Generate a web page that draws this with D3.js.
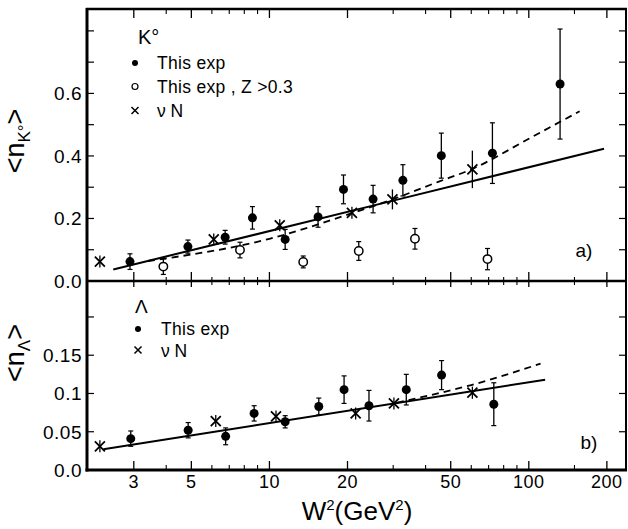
<!DOCTYPE html>
<html><head><meta charset="utf-8">
<script src="https://cdn.jsdelivr.net/npm/d3@7/dist/d3.min.js"></script>
<style>
body{margin:0;background:#fff}
svg{display:block;background:#fff}
text{font-family:"Liberation Sans",Arial,sans-serif;fill:#000}
</style>
</head><body>
<svg id="c" width="628" height="529"></svg>
<script>
// ---------------- data ----------------
const xMajorTicks = [3, 5, 10, 20, 50, 100, 200];
const xMinorTicks = [4, 6, 7, 8, 9, 30, 40, 60, 70, 80, 90, 150];

const kTicks = [0.1, 0.2, 0.3, 0.4, 0.5, 0.6, 0.7, 0.8];
const kTickLabels = [0.0, 0.2, 0.4, 0.6];
const lTicks = [0.05, 0.1, 0.15, 0.2];
const lTickLabels = [0.0, 0.05, 0.1, 0.15];

// K0 panel: [W2, <n>, error]
const kThisExp = [
  [2.9, 0.062, 0.025], [4.85, 0.110, 0.021], [6.75, 0.140, 0.022],
  [8.6, 0.202, 0.036], [11.5, 0.133, 0.032], [15.4, 0.205, 0.033],
  [19.3, 0.293, 0.046], [25.1, 0.262, 0.044], [32.7, 0.322, 0.050],
  [46, 0.401, 0.072], [72.4, 0.409, 0.097], [132, 0.630, 0.176]
];
const kThisExpZ = [
  [3.9, 0.046, 0.025], [7.7, 0.099, 0.025], [13.5, 0.061, 0.019],
  [22.1, 0.096, 0.030], [36.4, 0.135, 0.033], [69.3, 0.070, 0.034]
];
const kNuN = [
  [2.22, 0.062, 0.012], [6.1, 0.133, 0.012], [10.96, 0.178, 0.018],
  [20.8, 0.218, 0.018], [29.8, 0.261, 0.032], [60.6, 0.357, 0.060]
];
const kSolidW2 = [2.5, 30, 195];
const kSolidN  = [0.037, 0.257, 0.423];
const kDashW2 = [3.4, 10, 20, 30, 45, 60, 100, 157];
const kDashN  = [0.064, 0.135, 0.212, 0.262, 0.318, 0.357, 0.455, 0.543];

// Lambda panel
const lThisExp = [
  [2.92, 0.041, 0.010], [4.86, 0.052, 0.010], [6.78, 0.044, 0.011],
  [8.73, 0.074, 0.010], [11.5, 0.063, 0.008], [15.5, 0.083, 0.011],
  [19.4, 0.105, 0.018], [24.2, 0.084, 0.020], [33.7, 0.105, 0.020],
  [46.1, 0.124, 0.019], [73.3, 0.086, 0.028]
];
const lNuN = [
  [2.22, 0.031, 0.004], [6.21, 0.064, 0.004], [10.6, 0.070, 0.004],
  [21.5, 0.074, 0.006], [30.2, 0.087, 0.005], [60.6, 0.101, 0.008]
];
const lSolidW2 = [2.29, 115.6];
const lSolidN  = [0.027, 0.118];
const lDashW2 = [31, 42, 60, 111];
const lDashN  = [0.088, 0.098, 0.111, 0.139];

// ---------------- layout ----------------
const svg = d3.select("#c");
const L = 87, R = 626, T = 9, MID = 281, B = 470;

const x = d3.scaleLog().domain([1.98, 237]).range([L, R]);
const yK = d3.scaleLinear().domain([0, 0.87]).range([MID, T]);
const yL = d3.scaleLinear().domain([0, 0.247]).range([B, MID]);

const g = svg.append("g");

function hline(y, x1, x2, w) {
  g.append("line").attr("x1", x1).attr("x2", x2).attr("y1", y).attr("y2", y)
    .attr("stroke", "#000").attr("stroke-width", w);
}
function vline(xp, y1, y2, w) {
  g.append("line").attr("x1", xp).attr("x2", xp).attr("y1", y1).attr("y2", y2)
    .attr("stroke", "#000").attr("stroke-width", w);
}
hline(T, L - 1, R + 1, 2.5);
hline(MID, L, R + 1, 2.5);
hline(B, L - 1.5, R + 1, 3);
vline(L, T - 1, B + 1.5, 3);
vline(R, T - 1, B + 1, 2);

// x ticks
xMajorTicks.forEach(v => {
  const xp = x(v);
  vline(xp, T, T + 9, 1.3);
  vline(xp, MID - 9, MID + 6, 1.3);
  vline(xp, B - 9, B, 1.3);
});
xMinorTicks.forEach(v => {
  const xp = x(v);
  vline(xp, T, T + 5, 1.1);
  vline(xp, MID - 4, MID + 4, 1.1);
  vline(xp, B - 5, B, 1.1);
});
g.selectAll(".xl").data(xMajorTicks).enter().append("text")
  .attr("x", d => x(d)).attr("y", 488).attr("text-anchor", "middle")
  .attr("font-size", 18).attr("letter-spacing", 0.5).text(d => d);

// y ticks
kTicks.forEach(v => { hline(yK(v), L, L + 7, 1.2); hline(yK(v), R - 7, R, 1.2); });
lTicks.forEach(v => { hline(yL(v), L, L + 7, 1.2); hline(yL(v), R - 7, R, 1.2); });
g.selectAll(".ykl").data(kTickLabels).enter().append("text")
  .attr("x", 82).attr("y", d => yK(d) + 7).attr("text-anchor", "end")
  .attr("font-size", 19).attr("letter-spacing", 0.5).text(d => d3.format(".1f")(d));
g.selectAll(".yll").data(lTickLabels).enter().append("text")
  .attr("x", 82).attr("y", d => yL(d) + 7).attr("text-anchor", "end")
  .attr("font-size", 19).attr("letter-spacing", 0.5)
  .text(d => d === 0 ? "0.0" : String(d));

// curves
function curve(xs, ys, yS, dashed, curveType) {
  const pts = xs.map((v, i) => [v, ys[i]]);
  const ln = d3.line().x(d => x(d[0])).y(d => yS(d[1])).curve(curveType);
  g.append("path").attr("d", ln(pts)).attr("fill", "none").attr("stroke", "#000")
    .attr("stroke-width", dashed ? 1.8 : 2)
    .attr("stroke-dasharray", dashed ? "7,5" : null);
}
curve(kSolidW2, kSolidN, yK, false, d3.curveLinear);
curve(kDashW2, kDashN, yK, true, d3.curveMonotoneX);
curve(lSolidW2, lSolidN, yL, false, d3.curveLinear);
curve(lDashW2, lDashN, yL, true, d3.curveMonotoneX);

// markers
function errBar(xp, y1, y2) {
  g.append("line").attr("x1", xp).attr("x2", xp).attr("y1", y1).attr("y2", y2)
    .attr("stroke", "#000").attr("stroke-width", 1.3);
  [y1, y2].forEach(yy => g.append("line").attr("x1", xp - 2.5).attr("x2", xp + 2.5)
    .attr("y1", yy).attr("y2", yy).attr("stroke", "#000").attr("stroke-width", 1.2));
}
function filled(data, yS) {
  data.forEach(d => {
    errBar(x(d[0]), yS(d[1] + d[2]), yS(d[1] - d[2]));
    g.append("circle").attr("cx", x(d[0])).attr("cy", yS(d[1])).attr("r", 4.5).attr("fill", "#000");
  });
}
function open(data, yS) {
  data.forEach(d => {
    errBar(x(d[0]), yS(d[1] + d[2]), yS(d[1] - d[2]));
    g.append("circle").attr("cx", x(d[0])).attr("cy", yS(d[1])).attr("r", 4.2)
      .attr("fill", "#fff").attr("stroke", "#000").attr("stroke-width", 1.5);
  });
}
function cross(cx, cy, s, w) {
  g.append("path").attr("d", `M${cx - s},${cy - s}L${cx + s},${cy + s}M${cx - s},${cy + s}L${cx + s},${cy - s}`)
    .attr("stroke", "#000").attr("stroke-width", w).attr("fill", "none");
}
function stars(data, yS) {
  data.forEach(d => {
    const xp = x(d[0]), yp = yS(d[1]);
    const y1 = Math.min(yS(d[1] + d[2]), yp - 6), y2 = Math.max(yS(d[1] - d[2]), yp + 6);
    g.append("line").attr("x1", xp).attr("x2", xp).attr("y1", y1).attr("y2", y2)
      .attr("stroke", "#000").attr("stroke-width", 1.3);
    cross(xp, yp, 5, 1.8);
  });
}
filled(kThisExp, yK);
open(kThisExpZ, yK);
stars(kNuN, yK);
filled(lThisExp, yL);
stars(lNuN, yL);

// legends
g.append("text").attr("x", 138).attr("y", 44).attr("font-size", 20).text("K°");
g.append("circle").attr("cx", 135).attr("cy", 63).attr("r", 3).attr("fill", "#000");
g.append("text").attr("x", 157).attr("y", 69).attr("font-size", 17.5).attr("letter-spacing", 0.3).text("This exp");
g.append("circle").attr("cx", 135).attr("cy", 86.5).attr("r", 3).attr("fill", "#fff").attr("stroke", "#000").attr("stroke-width", 1.2);
g.append("text").attr("x", 157).attr("y", 93).attr("font-size", 17.5).attr("letter-spacing", 0.3).text("This exp , Z >0.3");
cross(135, 110.5, 3.5, 1.5);
g.append("text").attr("x", 157).attr("y", 117).attr("font-size", 17.5).text("ν N");

g.append("text").attr("x", 135).attr("y", 313).attr("font-size", 19).text("Λ");
g.append("circle").attr("cx", 138).attr("cy", 329).attr("r", 3).attr("fill", "#000");
g.append("text").attr("x", 161).attr("y", 335).attr("font-size", 17.5).attr("letter-spacing", 0.3).text("This exp");
cross(138, 350, 3.5, 1.5);
g.append("text").attr("x", 161).attr("y", 357).attr("font-size", 17.5).text("ν N");

g.append("text").attr("x", 584).attr("y", 257).attr("text-anchor", "middle").attr("font-size", 19).text("a)");
g.append("text").attr("x", 589).attr("y", 449).attr("text-anchor", "middle").attr("font-size", 19).text("b)");

// axis titles
const xt = g.append("text").attr("x", 357).attr("y", 520).attr("text-anchor", "middle").attr("font-size", 26);
xt.append("tspan").text("W");
xt.append("tspan").attr("dy", -10).attr("font-size", 15).text("2");
xt.append("tspan").attr("dy", 10).text("(GeV");
xt.append("tspan").attr("dy", -10).attr("font-size", 15).text("2");
xt.append("tspan").attr("dy", 10).text(")");

function yTitle(cy, sub) {
  const t = g.append("text").attr("transform", `translate(24,${cy}) rotate(-90)`)
    .attr("text-anchor", "middle").attr("font-size", 27);
  t.append("tspan").text("<n");
  t.append("tspan").attr("dy", 6).attr("font-size", 17).text(sub);
  t.append("tspan").attr("dy", -6).text(">");
}
yTitle(141, "K°");
yTitle(353, "Λ");
</script>
</body></html>
